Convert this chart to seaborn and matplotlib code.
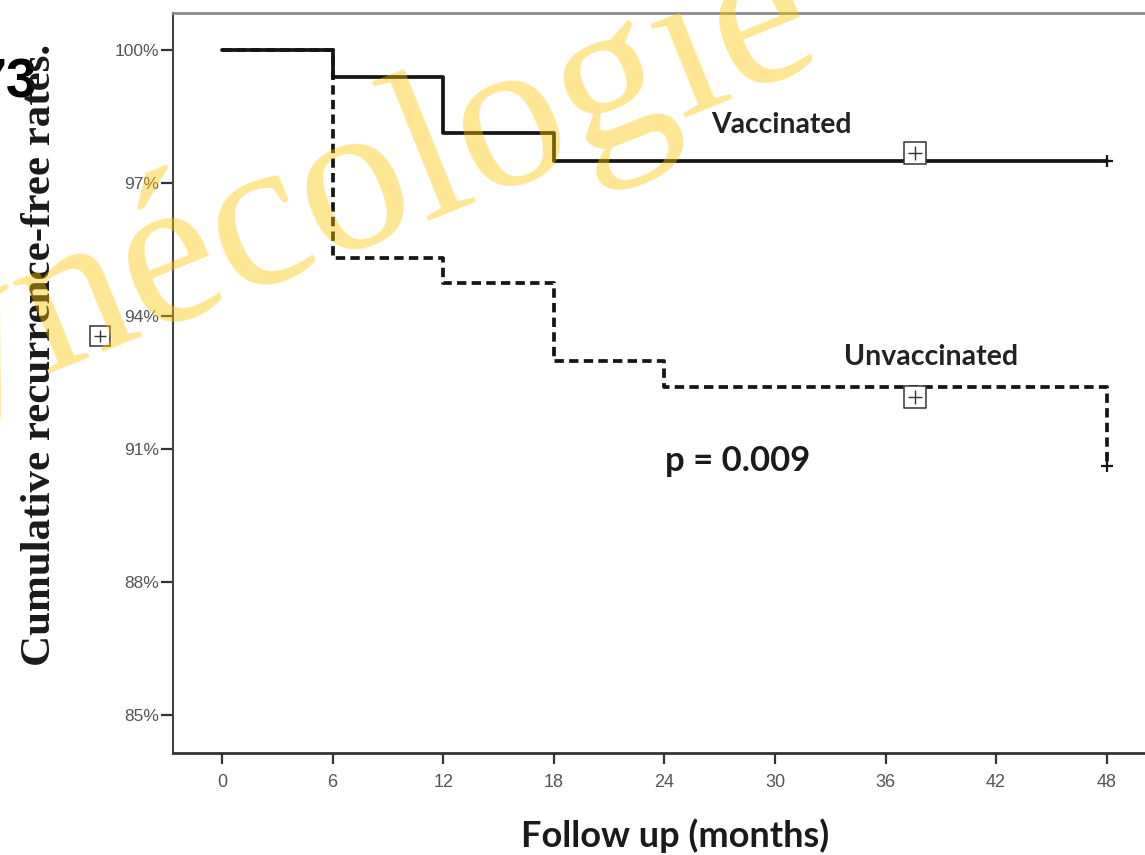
import matplotlib
matplotlib.use("Agg")
import matplotlib.pyplot as plt
import seaborn as sns
import pandas as pd

# Kaplan-Meier step values (recurrence-free %, by month)
vacc_months = [0, 6, 12, 18, 48]
vacc_rates = [100.0, 99.38, 98.12, 97.50, 97.50]
unvacc_months = [0, 6, 12, 18, 24, 48]
unvacc_rates = [100.0, 95.31, 94.75, 92.97, 92.40, 90.62]

# censoring marks
censor_months = [48, 48]
censor_rates = [97.50, 90.62]
box_months = [37.6, 37.6]
box_rates = [97.67, 92.17]

x_ticks = [0, 6, 12, 18, 24, 30, 36, 42, 48]
y_ticks = [85, 88, 91, 94, 97, 100]
y_tick_labels = ["85%", "88%", "91%", "94%", "97%", "100%"]

p_text = "p = 0.009"

df = pd.concat([
    pd.DataFrame({"month": vacc_months, "rate": vacc_rates, "group": "Vaccinated"}),
    pd.DataFrame({"month": unvacc_months, "rate": unvacc_rates, "group": "Unvaccinated"}),
], ignore_index=True)

sns.set_theme(style="white")
plt.rcParams["font.family"] = ["Liberation Sans", "DejaVu Sans"]

W, H = 1145, 855
fig = plt.figure(figsize=(W / 100, H / 100), dpi=100)
ax = fig.add_axes([173 / W, 102 / H, 972 / W, 740 / H])

sns.lineplot(
    data=df, x="month", y="rate", style="group", hue="group",
    palette={"Vaccinated": "#151515", "Unvaccinated": "#151515"},
    dashes={"Vaccinated": "", "Unvaccinated": (2.5, 1.4)},
    style_order=["Unvaccinated", "Vaccinated"],
    hue_order=["Unvaccinated", "Vaccinated"],
    drawstyle="steps-post", estimator=None, sort=False,
    linewidth=2.7, legend=False, ax=ax,
)

ax.scatter(censor_months, censor_rates, marker="+", s=70, color="#151515",
           linewidths=1.6, zorder=5, clip_on=False)
ax.scatter(box_months, box_rates, marker="s", s=230, facecolor="white",
           edgecolor="#333333", linewidths=1.1, zorder=4)
ax.scatter(box_months, box_rates, marker="+", s=90, color="#333333",
           linewidths=1.0, zorder=6)

ax.set_xlim(-2.66, 50.08)
ax.set_ylim(84.14, 100.83)
ax.set_xticks(x_ticks)
ax.set_yticks(y_ticks)
ax.set_yticklabels(y_tick_labels)
ax.set_xlabel("")
ax.set_ylabel("")

ax.tick_params(axis="y", direction="out", length=9, width=1.6, color="#333333",
               labelsize=12.5, labelcolor="#555555", pad=1, left=True)
ax.tick_params(axis="x", direction="out", length=8, width=1.6, color="#333333",
               labelsize=13, labelcolor="#555555", pad=7, bottom=True)
for lab in ax.get_xticklabels():
    lab.set_fontfamily(["Liberation Sans Narrow", "Liberation Sans"])

ax.spines["right"].set_visible(False)
ax.spines["left"].set_color("#444444")
ax.spines["left"].set_linewidth(1.5)
ax.spines["bottom"].set_color("#333333")
ax.spines["bottom"].set_linewidth(2.0)
ax.spines["top"].set_color("#8a8a8a")
ax.spines["top"].set_linewidth(2.0)

lab_font = ["Lato", "DejaVu Sans"]
fig.text(781 / W, 1 - 125 / H, "Vaccinated", ha="center", va="center",
         fontsize=20.3, fontweight="bold", color="#222222", family=lab_font)
fig.text(931 / W, 1 - 357 / H, "Unvaccinated", ha="center", va="center",
         fontsize=20.5, fontweight="bold", color="#222222", family=lab_font)
fig.text(738 / W, 1 - 461 / H, p_text, ha="center", va="center",
         fontsize=24.9, fontweight="bold", color="#1a1a1a", family=lab_font)

# stray legend symbol left of the axis
fig.add_artist(plt.Line2D([100 / W], [1 - 336 / H], marker="s", markersize=15,
                          markerfacecolor="white", markeredgecolor="#333333",
                          markeredgewidth=1.1, transform=fig.transFigure))
fig.add_artist(plt.Line2D([100 / W], [1 - 336 / H], marker="+", markersize=9,
                          color="#333333", markeredgewidth=1.0,
                          transform=fig.transFigure))

fig.text(675 / W, 1 - 836 / H, "Follow up (months)", ha="center", va="center",
         fontsize=26, fontweight="bold", color="#1a1a1a", family=lab_font)

fig.text(37 / W, 1 - 57 / H, "73", ha="right", va="top", fontsize=40,
         fontweight="bold", color="black", family=["Liberation Sans", "DejaVu Sans"])

fig.text(40 / W, 1 - 355 / H, "Cumulative recurrence-free rates.", rotation=90,
         ha="center", va="center", fontsize=31, fontweight="bold", color="#1a1a1a",
         family=["Liberation Serif", "DejaVu Serif"])

# watermark
fig.text(-200 / W, 1 - 472 / H, "Gynécologie", rotation=22, rotation_mode="anchor",
         ha="left", va="baseline", fontsize=156, color="#FFC400", alpha=0.42,
         family=["Liberation Serif", "DejaVu Serif"], zorder=20)

fig.savefig("out.png", dpi=100, facecolor="white")
